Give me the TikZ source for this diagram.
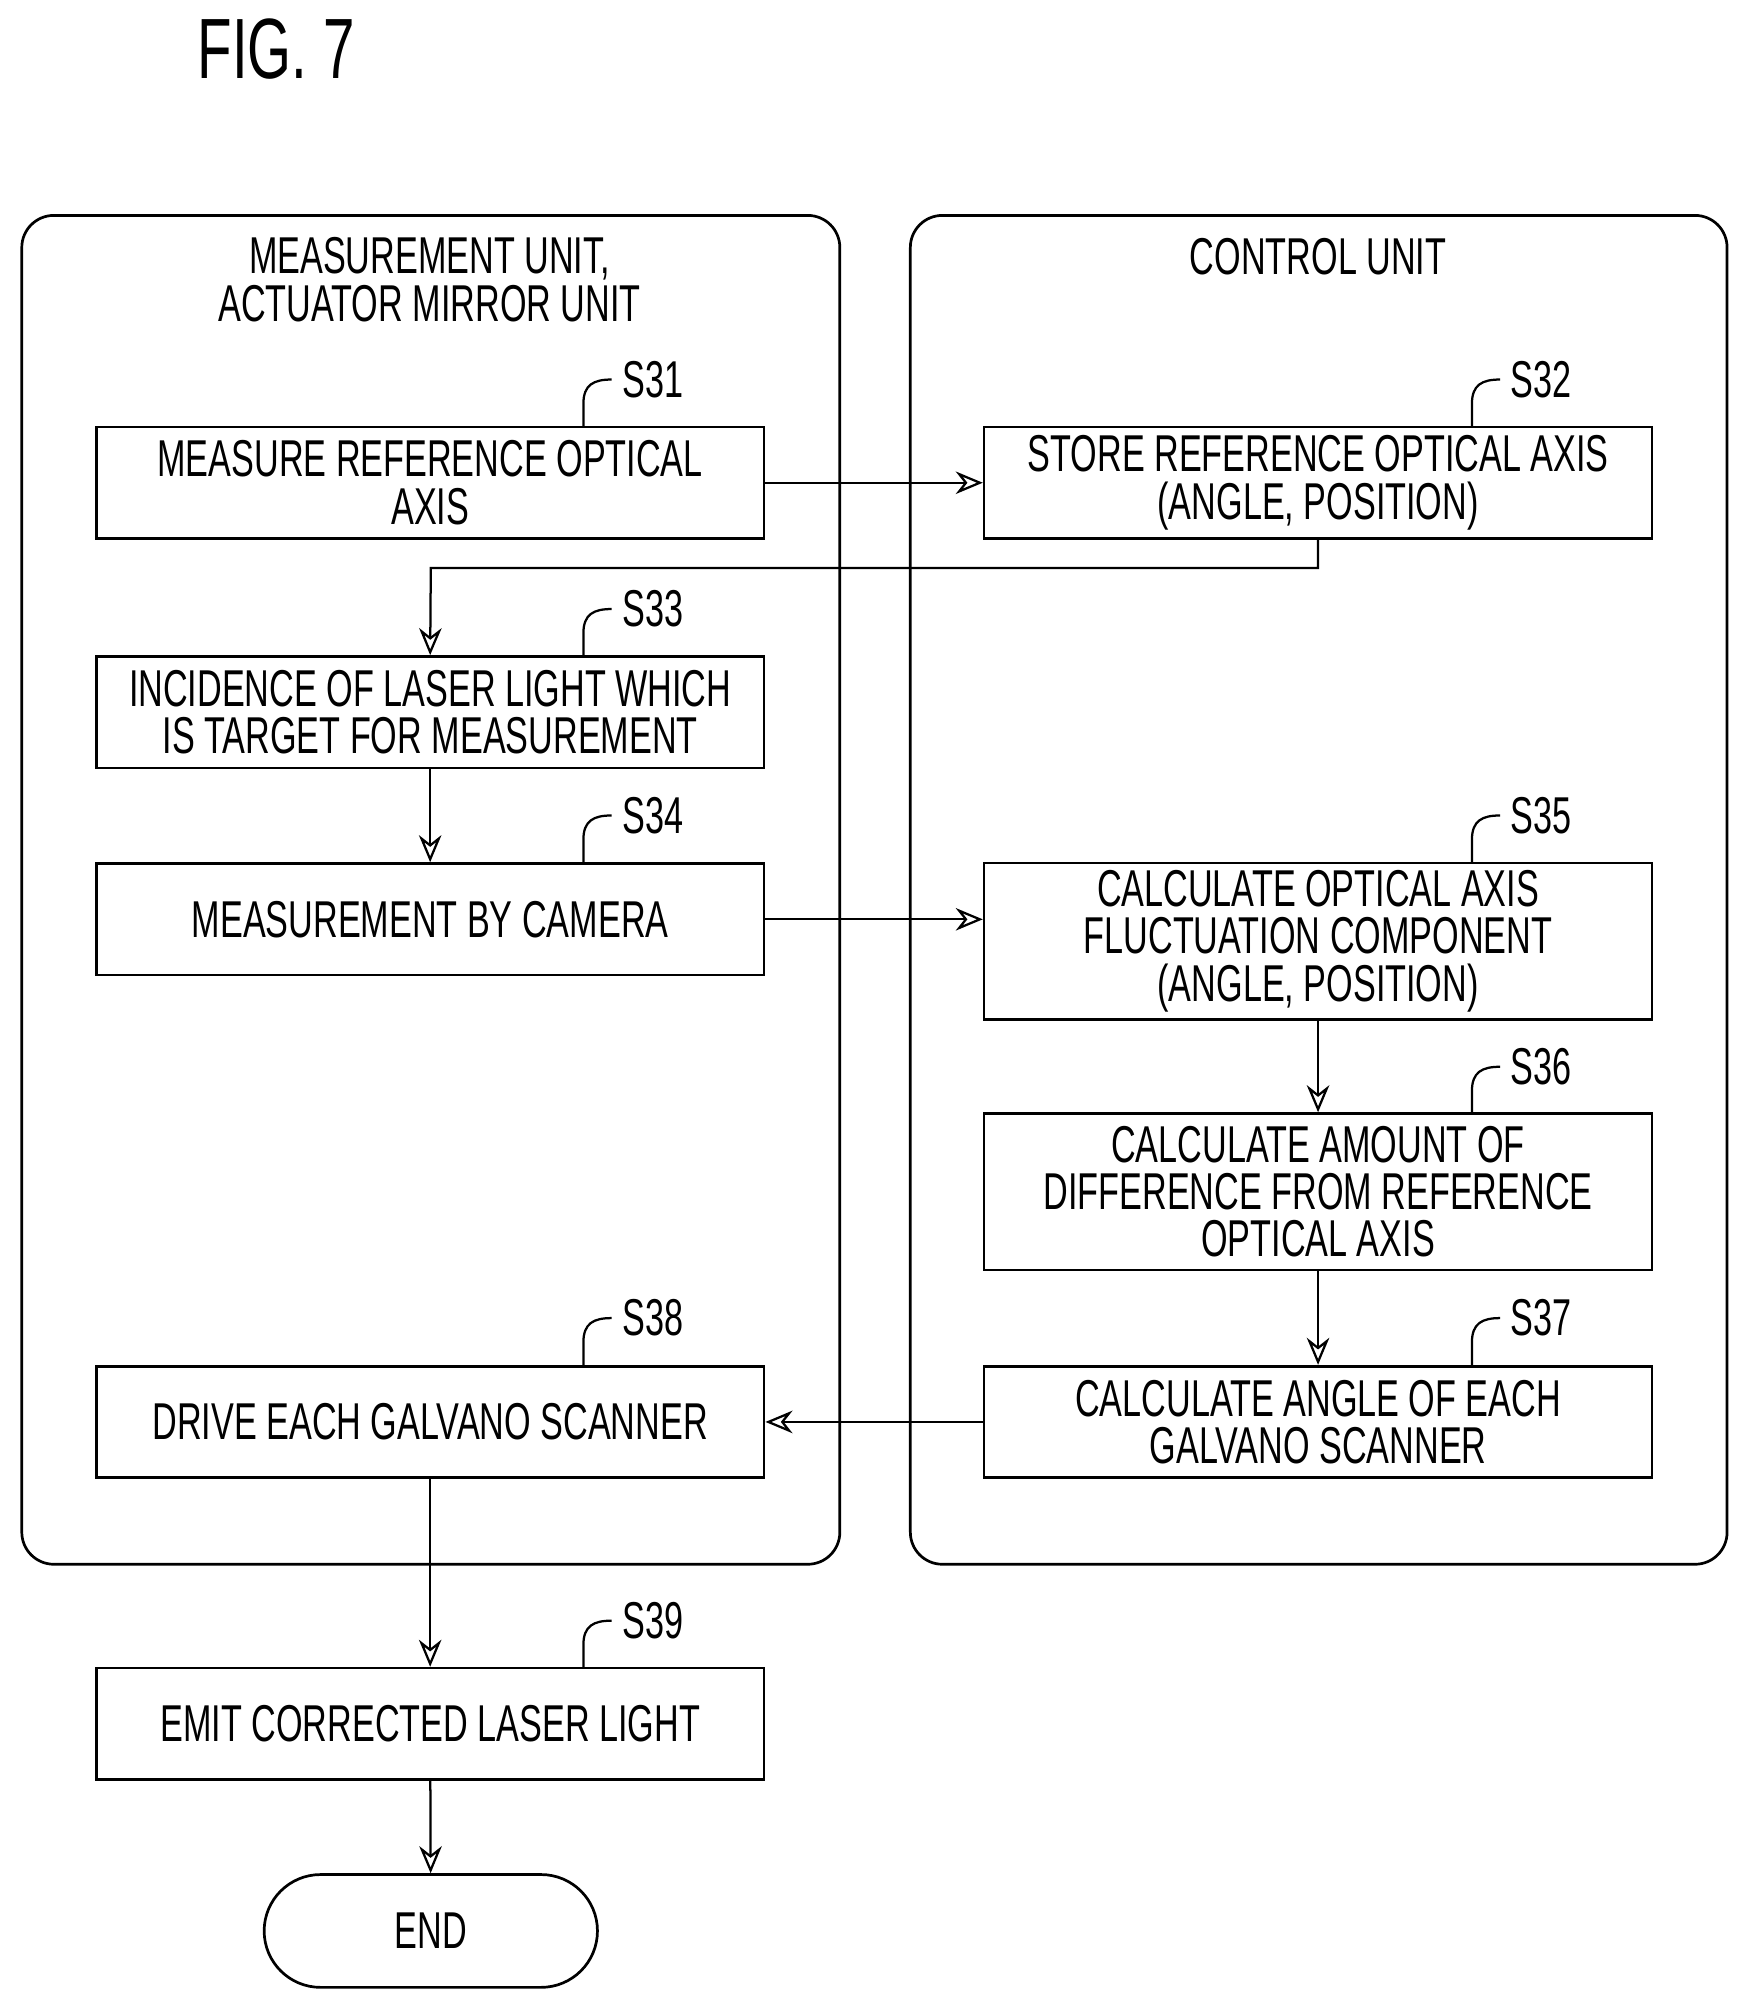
\documentclass[tikz,border=0pt]{standalone}
\usepackage{fontspec}
\setmainfont{Liberation Sans}[FakeStretch=0.66]
\usetikzlibrary{arrows.meta}
\begin{document}
\begin{tikzpicture}[x=0.02cm,y=-0.02cm,
  every node/.style={font=\fontsize{23}{25}\selectfont, align=center},
  box/.style={draw, line width=1.2pt, minimum width=10.42cm, minimum height=1.74cm, inner sep=2pt},
  tall/.style={box, minimum height=2.44cm},
  panel/.style={draw, line width=1.2pt, rounded corners=0.5cm},
  arr/.style={line width=1pt, -{Stealth[length=12pt,width=10pt,open]}},
  lab/.style={anchor=west, inner sep=0pt},
  sq/.style={line width=1pt}]
\useasboundingbox (0,0) rectangle (1366,1570);
\node[font=\fontsize{38}{40}\selectfont, anchor=west] (fig) at (148,38) {FIG. 7};
\draw[panel] (17,168) rectangle (655,1220);
\draw[panel] (710,168) rectangle (1347,1220);
\node (t1) at (335,218) {MEASUREMENT UNIT,\\[-4pt]ACTUATOR MIRROR UNIT};
\node (t2) at (1028,200) {CONTROL UNIT};
\node[box] (s31) at (335.5,376.5) {MEASURE REFERENCE OPTICAL\\[-4pt]AXIS};
\node[box] (s32) at (1028,376.5) {STORE REFERENCE OPTICAL AXIS\\[-4pt](ANGLE, POSITION)};
\node[box] (s33) at (335.5,555.5) {INCIDENCE OF LASER LIGHT WHICH\\[-4pt]IS TARGET FOR MEASUREMENT};
\node[box] (s34) at (335.5,717) {MEASUREMENT BY CAMERA};
\node[tall] (s35) at (1028,734) {CALCULATE OPTICAL AXIS\\[-4pt]FLUCTUATION COMPONENT\\[-4pt](ANGLE, POSITION)};
\node[tall] (s36) at (1028,929.5) {CALCULATE AMOUNT OF\\[-4pt]DIFFERENCE FROM REFERENCE\\[-4pt]OPTICAL AXIS};
\node[box] (s37) at (1028,1109) {CALCULATE ANGLE OF EACH\\[-4pt]GALVANO SCANNER};
\node[box] (s38) at (335.5,1109) {DRIVE EACH GALVANO SCANNER};
\node[box] (s39) at (335.5,1344.5) {EMIT CORRECTED LASER LIGHT};
\node[draw, line width=1.2pt, minimum width=5.2cm, minimum height=1.76cm, rounded corners=0.88cm] (end) at (336,1506) {END};
\foreach \n/\x/\y/\t in {s31/455/333/S31, s32/1148/333/S32, s33/455/512/S33, s34/455/673/S34, s35/1148/673/S35, s36/1148/869/S36, s37/1148/1065/S37, s38/455/1065/S38, s39/455/1301/S39}{
  \draw[sq] (\x,\y) -- (\x,\y-18) .. controls (\x,\y-33) and (\x+8,\y-37) .. (\x+22,\y-37);
  \node[lab] (l\n) at (\x+30,\y-37) {\t};
}
\draw[arr] (s31.east) -- (s32.west);
\draw[arr] (s32.south) -- (1028,443) -- (336,443) -- (s33.north);
\draw[arr] (s33) -- (s34);
\draw[arr] (s34.east) -- (s35.west |- s34.east);
\draw[arr] (s35) -- (s36);
\draw[arr] (s36) -- (s37);
\draw[arr] (s37) -- (s38);
\draw[arr] (s38) -- (s39);
\draw[arr] (s39) -- (end);
\end{tikzpicture}
\end{document}
